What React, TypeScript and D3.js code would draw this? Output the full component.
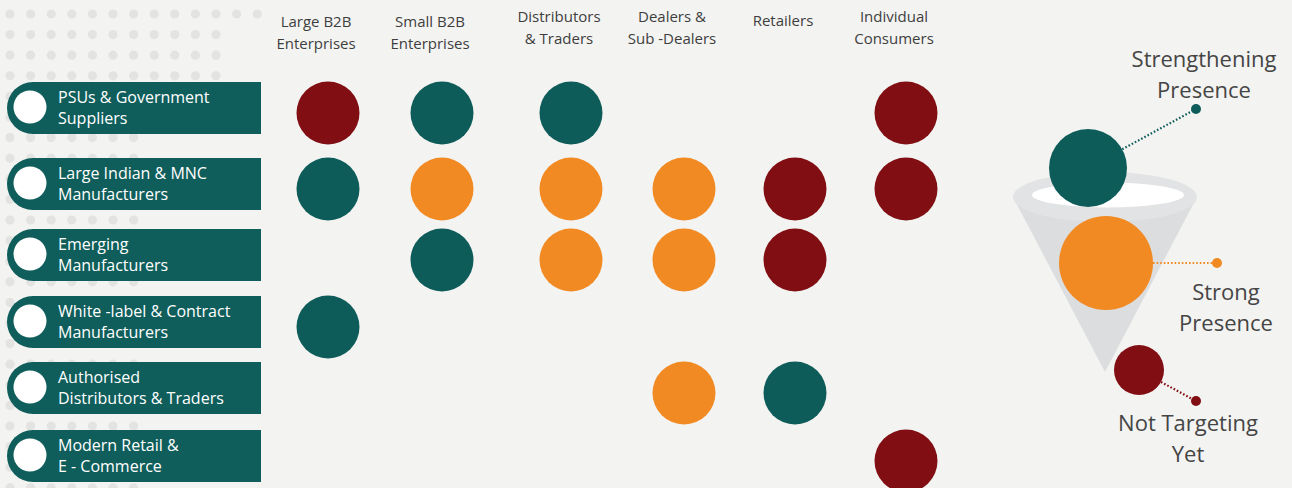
import React from "react";
import { scaleOrdinal, range } from "d3";

// customer segments (rows), two text lines each
const segments = [
  ["PSUs & Government", "Suppliers"],
  ["Large Indian & MNC", "Manufacturers"],
  ["Emerging", "Manufacturers"],
  ["White -label & Contract", "Manufacturers"],
  ["Authorised", "Distributors & Traders"],
  ["Modern Retail &", "E - Commerce"],
];

// channels (columns)
const channels = [
  ["Large B2B", "Enterprises"],
  ["Small B2B", "Enterprises"],
  ["Distributors", "& Traders"],
  ["Dealers &", "Sub -Dealers"],
  ["Retailers"],
  ["Individual", "Consumers"],
];

const statuses = ["Strengthening Presence", "Strong Presence", "Not Targeting Yet"];
const statusCodes = ["S", "P", "N"];

// S = strengthening, P = strong, N = not targeting yet, "" = none
const presence = [
  ["N", "S", "S", "", "", "N"],
  ["S", "P", "P", "P", "N", "N"],
  ["", "S", "P", "P", "N", ""],
  ["S", "", "", "", "", ""],
  ["", "", "", "P", "S", ""],
  ["", "", "", "", "", "N"],
];

const W = 1292;
const H = 488;
const FONT = "'Open Sans', 'Noto Sans', sans-serif";
const TEAL = "#0e5c5a";
const ORANGE = "#f28a24";
const MAROON = "#800e13";
const TEXT = "#3e3e3e";

const color = scaleOrdinal<string, string>().domain(statusCodes).range([TEAL, ORANGE, MAROON]);

const rowY = scaleOrdinal<number, number>()
  .domain(range(segments.length))
  .range([108, 184, 255, 322, 388, 456]);

const colX = scaleOrdinal<number, number>()
  .domain(range(channels.length))
  .range([328, 442, 571, 684, 795, 906]);

const headerBase = [27, 27, 22, 22, 26, 22];

// legend layout
const legend = [
  { code: "S", cx: 1088, cy: 168, r: 39, dx: 1196, dy: 109, tx: 1204, ty: 67 },
  { code: "P", cx: 1106, cy: 263, r: 47, dx: 1217, dy: 263, tx: 1226, ty: 300 },
  { code: "N", cx: 1139, cy: 370, r: 25, dx: 1196, dy: 401, tx: 1188, ty: 431 },
];

const BAR_L = 7;
const BAR_R = 261;
const BAR_H = 52;

function DotGrid() {
  const dots: JSX.Element[] = [];
  const step = 20.6;
  for (let j = 0; j < 24; j++) {
    const y = 14 + j * step;
    let maxX = j === 0 ? 260 : j < 4 ? 224 : 140;
    for (let i = 0; i < 13; i++) {
      const x = 10 + i * step;
      if (x > maxX) break;
      dots.push(<circle key={`${i}-${j}`} cx={x} cy={y} r={4.6} fill="#e3e3e2" />);
    }
  }
  return <g>{dots}</g>;
}

export default function App() {
  const statusLabel = (code: string) => statuses[statusCodes.indexOf(code)];
  return (
    <svg
      width={W}
      height={H}
      viewBox={`0 0 ${W} ${H}`}
      style={{ position: "absolute", left: 0, top: 0, display: "block" }}
      fontFamily={FONT}
    >
      <rect width={W} height={H} fill="#f3f3f1" />
      <DotGrid />

      {/* column headers */}
      {channels.map((lines, c) => (
        <text
          key={c}
          x={colX(c) - 12}
          y={headerBase[c]}
          textAnchor="middle"
          fontSize={15}
          fill={TEXT}
        >
          {lines.map((l, k) => (
            <tspan key={k} x={colX(c) - 12} dy={k === 0 ? 0 : 22}>
              {l}
            </tspan>
          ))}
        </text>
      ))}

      {/* row bars */}
      {segments.map((lines, r) => {
        const cy = rowY(r);
        const top = cy - BAR_H / 2;
        const rad = BAR_H / 2;
        const d = `M${BAR_L + rad},${top} H${BAR_R} V${top + BAR_H} H${BAR_L + rad} A${rad},${rad} 0 0 1 ${BAR_L + rad},${top} Z`;
        return (
          <g key={r}>
            <path d={d} fill="#0f5e5b" />
            <circle cx={30} cy={cy - 1} r={16.5} fill="#fff" />
            <text x={58} y={top + 21} fontSize={16} fill="#fff">
              {lines.map((l, k) => (
                <tspan key={k} x={58} dy={k === 0 ? 0 : 21}>
                  {l}
                </tspan>
              ))}
            </text>
          </g>
        );
      })}

      {/* matrix circles */}
      {presence.map((row, r) =>
        row.map((code, c) =>
          code ? (
            <circle key={`${r}-${c}`} cx={colX(c)} cy={rowY(r) + 5} r={31.5} fill={color(code)}>
              <title>{`${segments[r].join(" ")} / ${channels[c].join(" ")}: ${statusLabel(code)}`}</title>
            </circle>
          ) : null
        )
      )}

      {/* legend funnel */}
      <g>
        <polygon points="1013,197 1197,197 1105,372" fill="#dcdddf" />
        <ellipse cx={1105} cy={197} rx={92} ry={25} fill="#e2e3e4" />
        <ellipse cx={1108} cy={195} rx={76} ry={12.5} fill="#ffffff" />
        {legend.map((l) => {
          const ang = Math.atan2(l.dy - l.cy, l.dx - l.cx);
          const sx = l.cx + Math.cos(ang) * l.r;
          const sy = l.cy + Math.sin(ang) * l.r;
          const words = statusLabel(l.code).split(" ");
          const lines = words.length === 3 ? [words.slice(0, 2).join(" "), words[2]] : words;
          return (
            <g key={l.code}>
              <circle cx={l.cx} cy={l.cy} r={l.r} fill={color(l.code)} />
              <line
                x1={sx}
                y1={sy}
                x2={l.dx}
                y2={l.dy}
                stroke={color(l.code)}
                strokeWidth={2.2}
                strokeDasharray="1.6 2"
              />
              <circle cx={l.dx} cy={l.dy} r={5} fill={color(l.code)} />
              <text x={l.tx} y={l.ty} textAnchor="middle" fontSize={22} fill="#454545">
                {lines.map((t, k) => (
                  <tspan key={k} x={l.tx} dy={k === 0 ? 0 : 31}>
                    {t}
                  </tspan>
                ))}
              </text>
            </g>
          );
        })}
      </g>
    </svg>
  );
}
